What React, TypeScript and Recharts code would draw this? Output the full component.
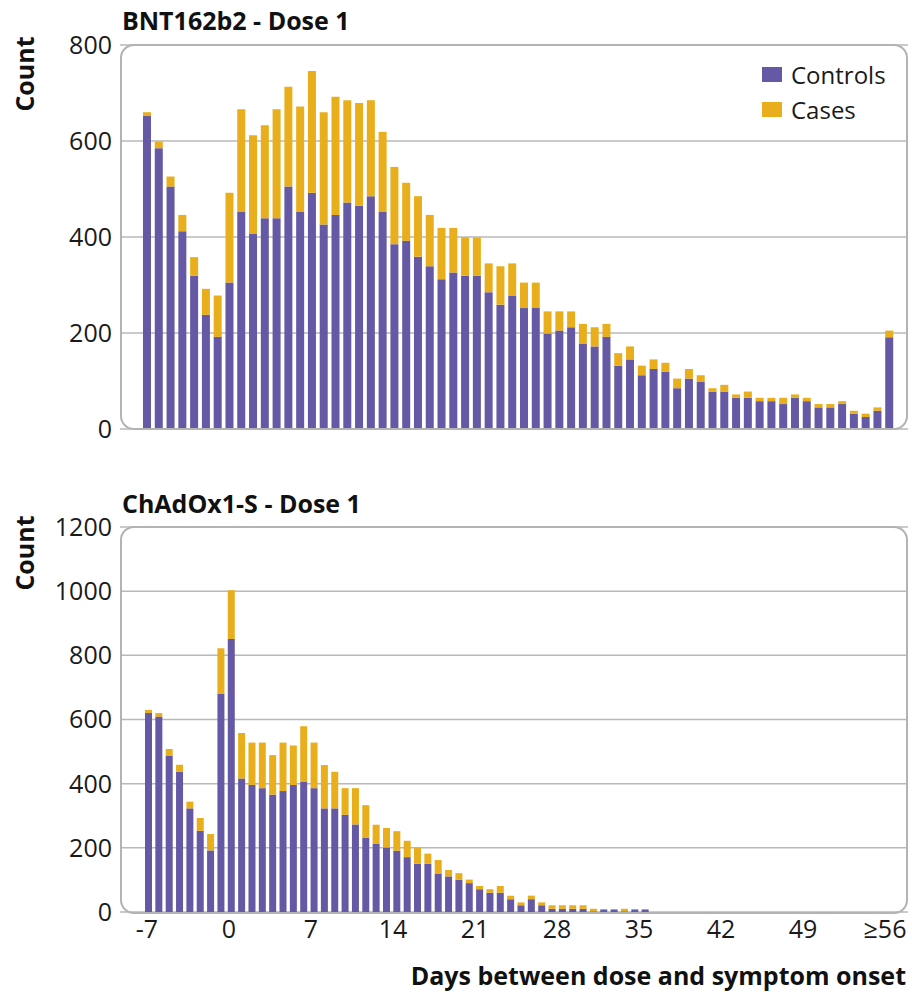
import { Bar, BarChart, CartesianGrid, Legend, XAxis, YAxis } from "recharts";

const PURPLE = "#6559a5";
const GOLD = "#e8ae1c";
const GRID = "#b8b8b8";
const FONT = "'Open Sans', sans-serif";

// BNT162b2, first dose: days -7 .. 55 plus a final ">=56" bucket
const bntDays = [
  "-7", "-6", "-5", "-4", "-3", "-2", "-1", "0", "1", "2", "3", "4", "5", "6", "7", "8",
  "9", "10", "11", "12", "13", "14", "15", "16", "17", "18", "19", "20", "21", "22", "23", "24",
  "25", "26", "27", "28", "29", "30", "31", "32", "33", "34", "35", "36", "37", "38", "39", "40",
  "41", "42", "43", "44", "45", "46", "47", "48", "49", "50", "51", "52", "53", "54", "55", "≥56",
];
const bntControls = [
  652, 585, 505, 412, 319, 238, 192, 305, 452, 406, 439, 439, 505, 452, 492, 426,
  446, 472, 465, 485, 452, 385, 392, 359, 339, 312, 326, 319, 319, 285, 259, 278,
  252, 252, 199, 205, 212, 178, 172, 192, 132, 145, 112, 125, 119, 85, 105, 98,
  78, 78, 65, 65, 58, 58, 52, 65, 58, 45, 45, 52, 32, 25, 38, 191,
];
const bntCases = [
  8, 14, 21, 34, 39, 54, 86, 187, 214, 206, 194, 227, 208, 220, 254, 234,
  246, 213, 214, 200, 167, 161, 121, 126, 107, 107, 93, 80, 80, 60, 80, 67,
  53, 53, 46, 40, 33, 41, 40, 27, 26, 27, 20, 20, 19, 20, 20, 14,
  7, 14, 7, 13, 7, 7, 13, 7, 7, 7, 7, 6, 6, 7, 7, 14,
];

// ChAdOx1-S, first dose: days -7 .. 41
const chDays = [
  -7, -6, -5, -4, -3, -2, -1, 0, 1, 2, 3, 4, 5, 6, 7, 8, 9,
  10, 11, 12, 13, 14, 15, 16, 17, 18, 19, 20, 21, 22, 23, 24, 25,
  26, 27, 28, 29, 30, 31, 32, 33, 34, 35, 36, 37, 38, 39, 40, 41,
];
const chControls = [
  620, 609, 488, 437, 323, 253, 192, 680, 851, 416, 396, 386, 366, 377, 396, 407, 386,
  323, 323, 303, 273, 232, 212, 201, 191, 171, 150, 150, 120, 111, 101, 90, 71,
  60, 60, 40, 21, 40, 21, 10, 10, 10, 10, 2, 8, 8, 2, 8, 8,
];
const chCases = [
  10, 11, 20, 22, 21, 40, 51, 142, 152, 142, 132, 142, 123, 151, 123, 172, 142,
  135, 114, 83, 113, 101, 60, 61, 61, 51, 51, 32, 42, 20, 20, 11, 10,
  11, 21, 11, 9, 11, 9, 11, 11, 11, 11, 8, 0, 0, 8, 0, 0,
];

const bntTicks = [0, 200, 400, 600, 800];
const chTicks = [0, 200, 400, 600, 800, 1000, 1200];
const dayTicks = [-7, 0, 7, 14, 21, 28, 35, 42, 49, 56];

const bntData = bntDays.map((day, i) => ({ day, controls: bntControls[i], cases: bntCases[i] }));
const chData = chDays.map((day, i) => ({ day, controls: chControls[i], cases: chCases[i] }));

const tickStyle = { fill: "#1a1a1a", fontSize: 25, fontFamily: FONT };

// legend rows: Controls on top, Cases below
function LegendBox({ payload }: any) {
  const order = ["Controls", "Cases"];
  const items = [...(payload || [])].sort((a: any, b: any) => order.indexOf(a.value) - order.indexOf(b.value));
  return (
    <div style={{ fontFamily: FONT, fontSize: 24, color: "#1a1a1a" }}>
      {items.map((entry: any) => (
        <div key={entry.value} style={{ display: "flex", alignItems: "center", height: 35 }}>
          <span style={{ display: "inline-block", width: 20, height: 15, background: entry.color, marginRight: 9 }} />
          {entry.value}
        </div>
      ))}
    </div>
  );
}

function Frame({ top, height }: { top: number; height: number }) {
  return (
    <div
      style={{
        position: "absolute",
        left: 120,
        top,
        width: 788,
        height,
        border: "2px solid #b3b3b3",
        borderRadius: 14,
        boxSizing: "border-box",
        pointerEvents: "none",
      }}
    />
  );
}

function PanelTitle({ text, top }: { text: string; top: number }) {
  return (
    <div style={{ position: "absolute", left: 122, top, fontFamily: FONT, fontWeight: 700, fontSize: 25, lineHeight: "26px", color: "#111" }}>
      {text}
    </div>
  );
}

function CountLabel({ centerY }: { centerY: number }) {
  return (
    <div
      style={{
        position: "absolute",
        left: 24,
        top: centerY,
        transform: "translate(-50%, -50%) rotate(-90deg)",
        fontFamily: FONT,
        fontWeight: 700,
        fontSize: 25,
        lineHeight: "26px",
        color: "#111",
        whiteSpace: "nowrap",
      }}
    >
      Count
    </div>
  );
}

export default function App() {
  return (
    <div style={{ position: "absolute", left: 0, top: 0, width: 912, height: 992, background: "#fff" }}>
      <PanelTitle text="BNT162b2 - Dose 1" top={7} />
      <CountLabel centerY={74} />
      <div style={{ position: "absolute", left: 0, top: 0 }}>
        <BarChart width={912} height={445} data={bntData} margin={{ top: 45, right: 4, bottom: 16, left: 0 }}>
          <CartesianGrid vertical={false} stroke={GRID} strokeWidth={1.5} />
          <XAxis dataKey="day" hide height={0} padding={{ left: 21, right: 13 }} />
          <YAxis
            width={120}
            domain={[0, 800]}
            ticks={bntTicks}
            interval={0}
            axisLine={false}
            tickLine={false}
            tick={tickStyle}
          />
          <Legend
            layout="horizontal"
            verticalAlign="middle"
            align="center"
            content={<LegendBox />}
            wrapperStyle={{ top: 57, left: 762, width: 140, height: 70 }}
          />
          <Bar dataKey="controls" name="Controls" stackId="a" fill={PURPLE} barSize={8} isAnimationActive={false} />
          <Bar dataKey="cases" name="Cases" stackId="a" fill={GOLD} barSize={8} isAnimationActive={false} />
        </BarChart>
      </div>
      <Frame top={44} height={386} />

      <PanelTitle text="ChAdOx1-S - Dose 1" top={490} />
      <CountLabel centerY={553} />
      <div style={{ position: "absolute", left: 0, top: 480 }}>
        <BarChart width={912} height={512} data={chData} margin={{ top: 47, right: 4, bottom: 0, left: 0 }}>
          <CartesianGrid vertical={false} stroke={GRID} strokeWidth={1.5} />
          <XAxis xAxisId="bars" dataKey="day" type="category" hide height={0} padding={{ left: 23, right: 258 }} />
          <XAxis
            xAxisId="days"
            dataKey="day"
            type="number"
            domain={[-7, 56]}
            allowDataOverflow
            ticks={dayTicks}
            interval={0}
            padding={{ left: 27, right: 23 }}
            axisLine={false}
            tickLine={false}
            tick={tickStyle}
            tickFormatter={(v: number) => (v === 56 ? "≥56" : String(v))}
            height={80}
          />
          <YAxis
            width={120}
            domain={[0, 1200]}
            ticks={chTicks}
            interval={0}
            axisLine={false}
            tickLine={false}
            tick={tickStyle}
          />
          <Bar xAxisId="bars" dataKey="controls" name="Controls" stackId="a" fill={PURPLE} barSize={7} isAnimationActive={false} />
          <Bar xAxisId="bars" dataKey="cases" name="Cases" stackId="a" fill={GOLD} barSize={7} isAnimationActive={false} />
        </BarChart>
      </div>
      <Frame top={526} height={388} />

      <div
        style={{
          position: "absolute",
          right: 6,
          top: 962,
          fontFamily: FONT,
          fontWeight: 700,
          fontSize: 25,
          lineHeight: "26px",
          color: "#111",
          whiteSpace: "nowrap",
        }}
      >
        Days between dose and symptom onset
      </div>
    </div>
  );
}
